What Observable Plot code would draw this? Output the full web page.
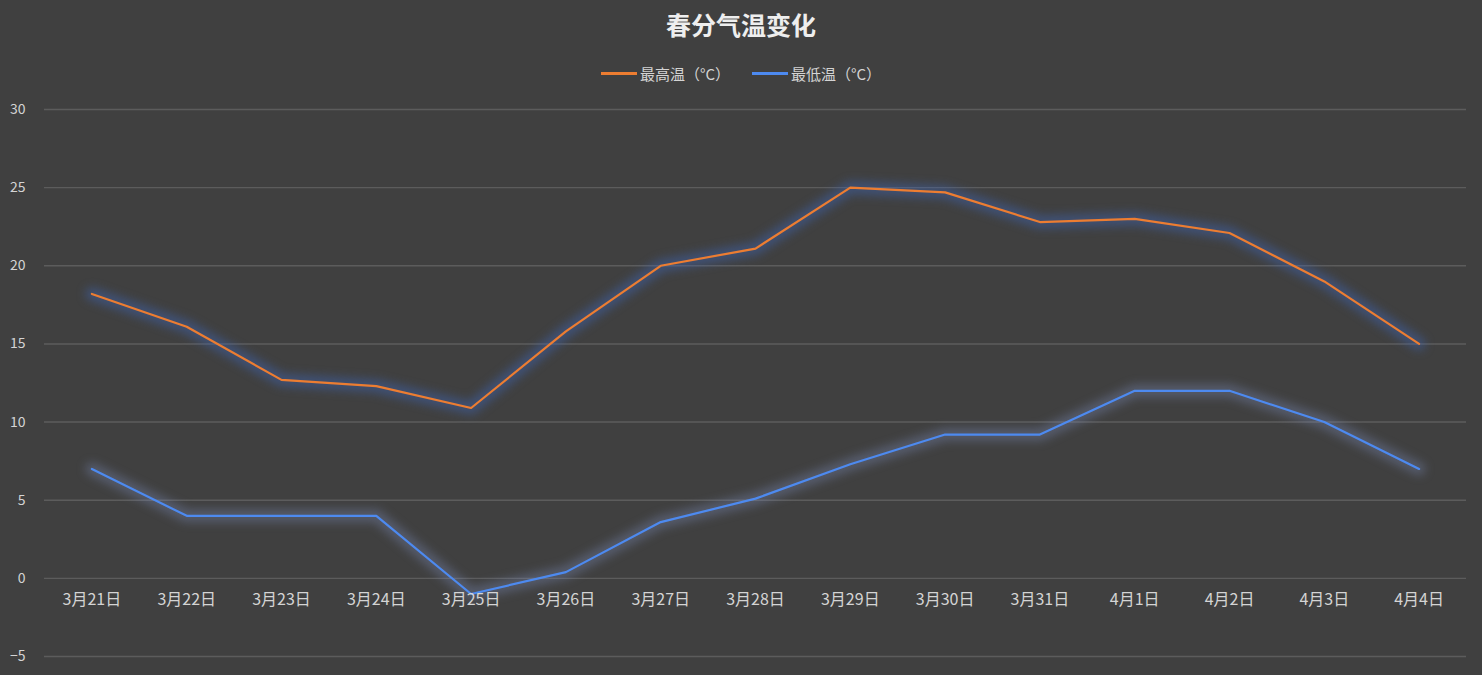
<!DOCTYPE html>
<html>
<head>
<meta charset="utf-8">
<script src="https://cdn.jsdelivr.net/npm/d3@7"></script>
<script src="https://cdn.jsdelivr.net/npm/@observablehq/plot@0.6"></script>
<style>
  html, body { margin: 0; padding: 0; background: #404040; }
  #wrap { position: relative; width: 1482px; height: 675px; background: #404040; overflow: hidden;
          font-family: "Noto Sans CJK SC", "Noto Sans", sans-serif; }
  #title { height: 48px; line-height: 48px; text-align: center; color: #eeeeee; font-size: 25px; font-weight: bold; }
  #legend { height: 42px; line-height: 42px; text-align: center; color: #d4d4d4; font-size: 15px; }
  .item { display: inline-flex; align-items: center; margin: 0 11px; }
  .sw { display: inline-block; width: 36px; height: 3px; margin-right: 3px; }
  svg { display: block; }
</style>
</head>
<body>
<div id="wrap">
  <div id="title"></div>
  <div id="legend"></div>
  <div id="chart"></div>
</div>
<script>
const title = "春分气温变化";
const dates = ["3月21日","3月22日","3月23日","3月24日","3月25日","3月26日","3月27日","3月28日","3月29日","3月30日","3月31日","4月1日","4月2日","4月3日","4月4日"];
const highs = [18.2, 16.1, 12.7, 12.3, 10.9, 15.8, 20.0, 21.1, 25.0, 24.7, 22.8, 23.0, 22.1, 19.0, 15.0];
const lows  = [7.0, 4.0, 4.0, 4.0, -1.0, 0.4, 3.6, 5.1, 7.3, 9.2, 9.2, 12.0, 12.0, 10.0, 7.0];
const seriesNames = ["最高温（°C）", "最低温（°C）"];
const seriesColors = ["#ed7d31", "#4d8af0"];
const glowColors = ["#3f66b8", "#7f90c0"];
const yTicks = [-5, 0, 5, 10, 15, 20, 25, 30];

document.getElementById("title").textContent = title;
const legend = document.getElementById("legend");
seriesNames.forEach((name, i) => {
  const item = document.createElement("span");
  item.className = "item";
  const sw = document.createElement("span");
  sw.className = "sw";
  sw.style.background = seriesColors[i];
  const t = document.createElement("span");
  t.textContent = name;
  item.appendChild(sw);
  item.appendChild(t);
  legend.appendChild(item);
});

const rows = [];
dates.forEach((d, i) => {
  rows.push({date: d, series: seriesNames[0], value: highs[i]});
  rows.push({date: d, series: seriesNames[1], value: lows[i]});
});
const highRows = rows.filter(r => r.series === seriesNames[0]);
const lowRows = rows.filter(r => r.series === seriesNames[1]);

const chart = Plot.plot({
  width: 1482,
  height: 585,
  marginLeft: 44,
  marginRight: 16,
  marginTop: 19,
  marginBottom: 19,
  style: {background: "transparent", color: "#d4d4d4", fontFamily: "'Noto Sans CJK SC', 'Noto Sans', sans-serif", fontSize: "14px"},
  x: {type: "point", domain: dates, padding: 0.5, round: false, axis: null},
  y: {domain: [-5, 30], ticks: yTicks, axis: null},
  color: {domain: seriesNames, range: seriesColors},
  marks: [
    Plot.gridY(yTicks, {stroke: "#5c5c5c", strokeOpacity: 1, strokeWidth: 1.4}),
    Plot.axisY(yTicks, {tickSize: 0, tickPadding: 19, label: null, fontSize: 14, fill: "#d4d4d4"}),
    Plot.line(highRows, {x: "date", y: "value", stroke: glowColors[0], strokeWidth: 13, strokeOpacity: 0.45}),
    Plot.line(lowRows, {x: "date", y: "value", stroke: glowColors[1], strokeWidth: 13, strokeOpacity: 0.35}),
    Plot.line(rows, {x: "date", y: "value", z: "series", stroke: "series", strokeWidth: 2.2}),
    Plot.text(dates, {x: d => d, y: d => 0, dy: 22, text: d => d, fill: "#d4d4d4", fontSize: 16})
  ]
});
document.getElementById("chart").appendChild(chart);
const lineGroups = chart.querySelectorAll('g[aria-label="line"]');
if (lineGroups.length >= 2) {
  lineGroups[0].style.filter = "blur(5px)";
  lineGroups[1].style.filter = "blur(5px)";
}
</script>
</body>
</html>
